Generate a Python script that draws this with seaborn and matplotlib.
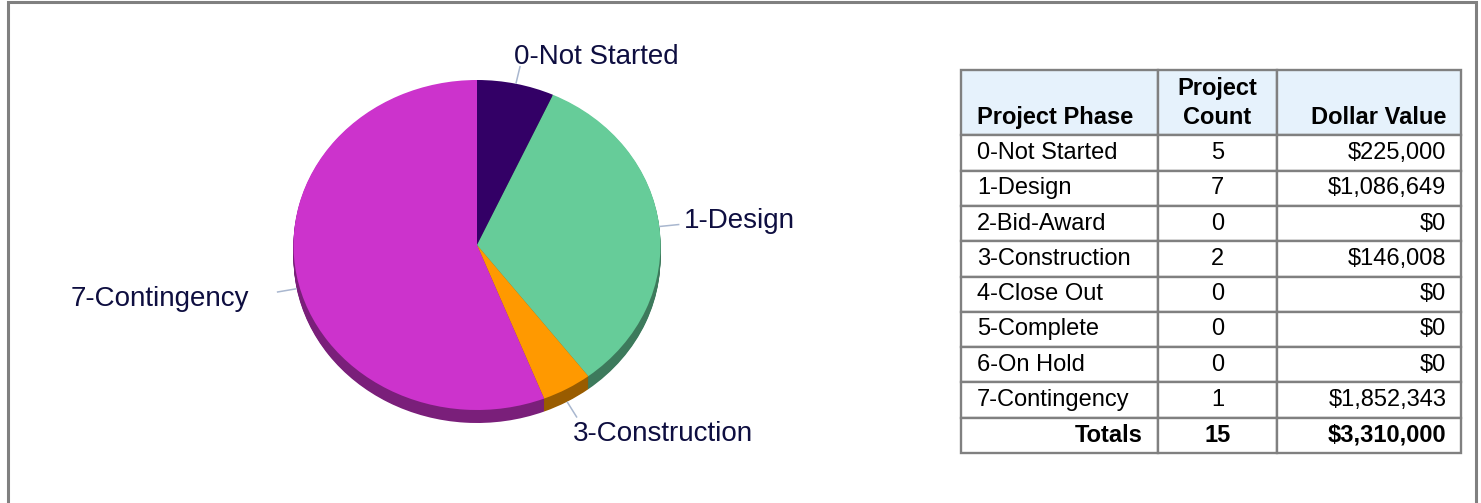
import numpy as np
import matplotlib
matplotlib.use("Agg")
import matplotlib.pyplot as plt
import seaborn as sns
from matplotlib.patches import Rectangle
from matplotlib.colors import to_rgb

phases = ["0-Not Started", "1-Design", "2-Bid-Award", "3-Construction",
          "4-Close Out", "5-Complete", "6-On Hold", "7-Contingency"]
counts = [5, 7, 0, 2, 0, 0, 0, 1]
dollars = [225000, 1086649, 0, 146008, 0, 0, 0, 1852343]
phase_colors = ["#330066", "#66CC99", "#3366CC", "#FF9900",
                "#999999", "#6699FF", "#FFCC00", "#CC33CC"]
header = ["\nProject Phase", "Project\nCount", "\nDollar Value"]

sns.set_theme(style="white")
plt.rcParams['font.family'] = ['Liberation Sans', 'DejaVu Sans']

W, H = 1481, 503
fig = plt.figure(figsize=(W / 100, H / 100), dpi=100)

# grey outer frame (bottom edge runs off the picture)
fig.patches.append(Rectangle((7.5 / W, -0.1), (1475.5 - 7.5) / W, (H - 2.5) / H + 0.1,
                             transform=fig.transFigure, fill=False,
                             edgecolor="#808080", linewidth=2.2))

# ---- pie (flattened, with a darker rim for the 3d look) ----
cx, cy, rx, ry = 477, 245, 183.5, 165   # pixel centre / radii
ax_w = 0.62
ax = fig.add_axes([0, 0, ax_w, 1])
nz = [i for i, v in enumerate(dollars) if v > 0]
vals = [dollars[i] for i in nz]
cols = [phase_colors[i] for i in nz]
dark = [tuple(c * 0.6 for c in to_rgb(x)) for x in cols]
depth = 13 / ry

for k in np.linspace(depth, 0, 16)[:-1]:
    ax.pie(vals, colors=dark, startangle=90, counterclock=False, center=(0, -k),
           frame=True, wedgeprops=dict(linewidth=0, antialiased=True))
wedges, _ = ax.pie(vals, colors=cols, startangle=90, counterclock=False,
                   frame=True, wedgeprops=dict(linewidth=0))

ax.set_aspect('auto')
ax.set_xlim(-cx / rx, (ax_w * W - cx) / rx)
ax.set_ylim(-(H - cy) / ry, cy / ry)
ax.axis('off')

label_color = "#0E0E40"
line_color = "#A9B7CF"
for w, i in zip(wedges, nz):
    a = np.deg2rad((w.theta1 + w.theta2) / 2)
    c, s = np.cos(a), np.sin(a)
    dy = -depth if s < 0 else 0
    x0, y0 = c, s + dy
    x1, y1 = 1.11 * c, 1.11 * s + dy
    ax.plot([x0, x1], [y0, y1], color=line_color, lw=1.1, solid_capstyle='butt')
    if s > 0.7:
        ax.text(x1 - 0.035, y1 + 0.01, phases[i], ha='left', va='baseline',
                fontsize=20, color=label_color)
    elif s < -0.7:
        ax.text(x1 - 0.02, y1 - 0.02, phases[i], ha='left', va='top',
                fontsize=20, color=label_color)
    elif c > 0:
        ax.text(x1 + 0.025, y1 + 0.02, phases[i], ha='left', va='center',
                fontsize=20, color=label_color)
    else:
        ax.text(x1 - 0.153, y1 - 0.04, phases[i], ha='right', va='center',
                fontsize=20, color=label_color)

# ---- table ----
rows = [[p, str(n), f"${d:,}"] for p, n, d in zip(phases, counts, dollars)]
rows.append(["Totals", str(sum(counts)), f"${sum(dollars):,}"])

tx0, tx1, ty0, ty1 = 961, 1461, 70, 453
ax_t = fig.add_axes([tx0 / W, (H - ty1) / H, (tx1 - tx0) / W, (ty1 - ty0) / H])
ax_t.axis('off')
tbl = ax_t.table(cellText=rows, colLabels=header, colWidths=[197, 119, 184],
                 bbox=[0, 0, 1, 1])
tbl.auto_set_font_size(False)
tbl.set_fontsize(17)

aligns = ['left', 'center', 'right']
n_rows = len(rows)
for (r, c), cell in tbl.get_celld().items():
    cell.set_edgecolor("#808080")
    cell.set_linewidth(1.7)
    cell.PAD = 0.08
    txt = cell.get_text()
    txt.set_color("black")
    txt.set_horizontalalignment(aligns[c])
    if r == 0:
        cell.set_facecolor("#E6F2FC")
        cell.set_height(cell.get_height() * 1.85)
        txt.set_fontweight('bold')
        txt.set_linespacing(1.35)
    else:
        cell.set_facecolor("white")
    if r == n_rows:
        txt.set_fontweight('bold')
        if c == 0:
            txt.set_horizontalalignment('right')

fig.savefig("out.png", dpi=100)
